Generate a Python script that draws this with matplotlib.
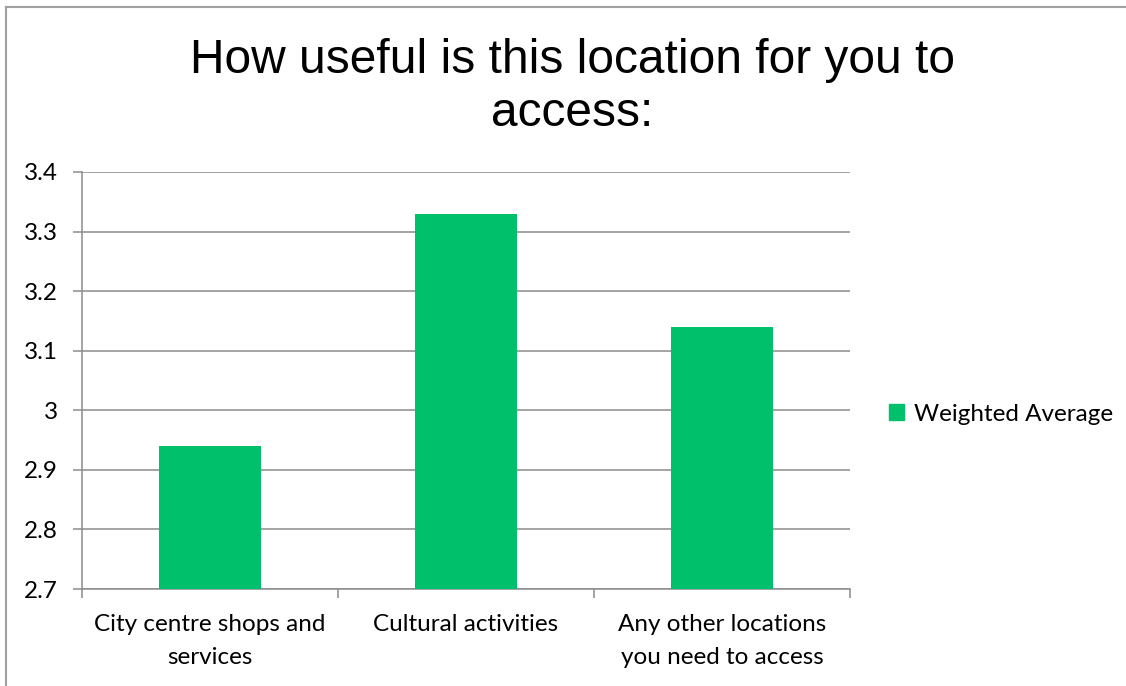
import matplotlib.pyplot as plt
from matplotlib.patches import Rectangle
from matplotlib.lines import Line2D
import numpy as np

categories = ["City centre shops and\nservices", "Cultural activities",
              "Any other locations\nyou need to access"]
values = [2.94, 3.33, 3.14]
series_name = "Weighted Average"
yticks = [2.7, 2.8, 2.9, 3.0, 3.1, 3.2, 3.3, 3.4]
ytick_labels = ["2.7", "2.8", "2.9", "3", "3.1", "3.2", "3.3", "3.4"]

GREEN = "#00C06C"
GRID = "#8c8c8c"
LABEL_FONT = "Lato"
LABEL_SIZE = 17.5

fig = plt.figure(figsize=(11.26, 6.86), dpi=100)
W, H = 1126, 686
# plot area in pixels: left 82, right 850, top 172, bottom 589
ax = fig.add_axes([82 / W, 1 - 589 / H, (850 - 82) / W, (589 - 172) / H])

x = np.arange(len(categories))
ax.bar(x, np.array(values) - 2.7, bottom=2.7, width=0.4, color=GREEN, zorder=3,
       label=series_name)

ax.set_xlim(-0.5, len(categories) - 0.5)
ax.set_ylim(2.7, 3.4)
ax.set_yticks(yticks, ytick_labels)
ax.yaxis.grid(True, color=GRID, linewidth=1.1, zorder=0)
ax.tick_params(axis="y", length=6.5, width=1.1, color=GRID, pad=11,
               labelsize=LABEL_SIZE)
for lbl in ax.get_yticklabels():
    lbl.set_fontfamily(LABEL_FONT)

ax.set_xticks(x)
ax.set_xticklabels(categories, fontfamily=LABEL_FONT, fontsize=LABEL_SIZE,
                   linespacing=1.7)
ax.tick_params(axis="x", length=0, pad=18)
# category boundary tick marks
ax.set_xticks(np.arange(-0.5, len(categories)), minor=True)
ax.tick_params(axis="x", which="minor", length=6.5, width=1.1, color=GRID)

for s in ["top", "right"]:
    ax.spines[s].set_visible(False)
for s in ["left", "bottom"]:
    ax.spines[s].set_color(GRID)
    ax.spines[s].set_linewidth(1.1)

fig.text(572 / W, 1 - 87 / H, "How useful is this location for you to\naccess:",
         ha="center", va="center", fontsize=34.5, fontfamily="Liberation Sans",
         linespacing=1.22)

handle = Rectangle((0, 0), 1, 1, color=GREEN)
fig.legend([handle], [series_name], loc="center left",
           bbox_to_anchor=(872 / W, 1 - 414 / H), frameon=False,
           handlelength=0.62, handleheight=0.62, handletextpad=0.4,
           borderpad=0.2, prop={"family": LABEL_FONT, "size": LABEL_SIZE})

# outer chart border (top and left visible)
fig.add_artist(Line2D([6 / W, 1], [1 - 7 / H, 1 - 7 / H], color="#a0a0a0",
                      linewidth=1.5, transform=fig.transFigure))
fig.add_artist(Line2D([6 / W, 6 / W], [0, 1 - 7 / H], color="#a0a0a0",
                      linewidth=1.5, transform=fig.transFigure))

fig.savefig("out.png", dpi=100)
